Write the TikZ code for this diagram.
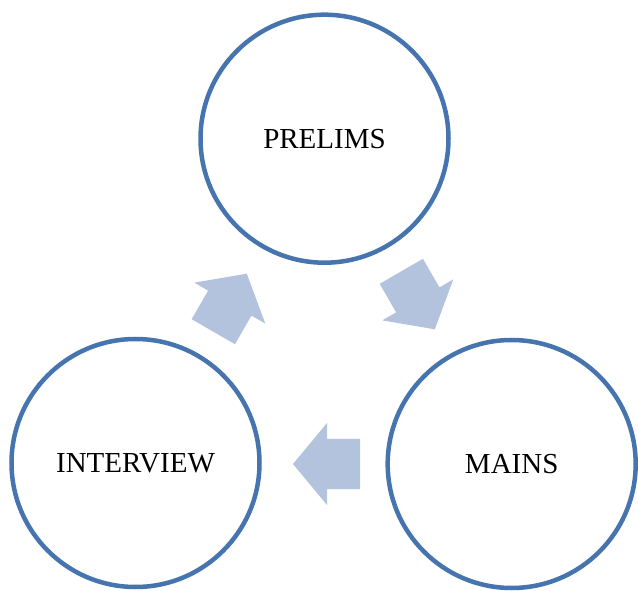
\documentclass[tikz,border=0pt]{standalone}
\usepackage{fontspec}
\setmainfont{Liberation Serif}
\definecolor{ringblue}{RGB}{70,116,174}
\definecolor{arrowfill}{RGB}{179,195,222}
\begin{document}
\begin{tikzpicture}[x=1pt,y=1pt,
  stage/.style={circle, draw=ringblue, line width=4.5pt, fill=white,
    minimum size=248pt, inner sep=0pt,
    font=\fontsize{29}{33}\selectfont},
  blockarrow/.style={fill=arrowfill, draw=none}]
\useasboundingbox (0,0) rectangle (638,590);
\node[stage] (prelims) at (324.5,451.3) {PRELIMS};
\node[stage] (mains) at (511.7,126) {MAINS};
\node[stage] (interview) at (135.5,127) {INTERVIEW};
\foreach \px/\py/\ang in {213.3/258.3/60, 401.3/318.7/-60, 360/126/180}{
  \begin{scope}[shift={(\px,\py)}, rotate=\ang]
    \fill[blockarrow] (0,25) -- (33,25) -- (33,41) -- (67,0) -- (33,-41) -- (33,-25) -- (0,-25) -- cycle;
  \end{scope}
}
\end{tikzpicture}
\end{document}
